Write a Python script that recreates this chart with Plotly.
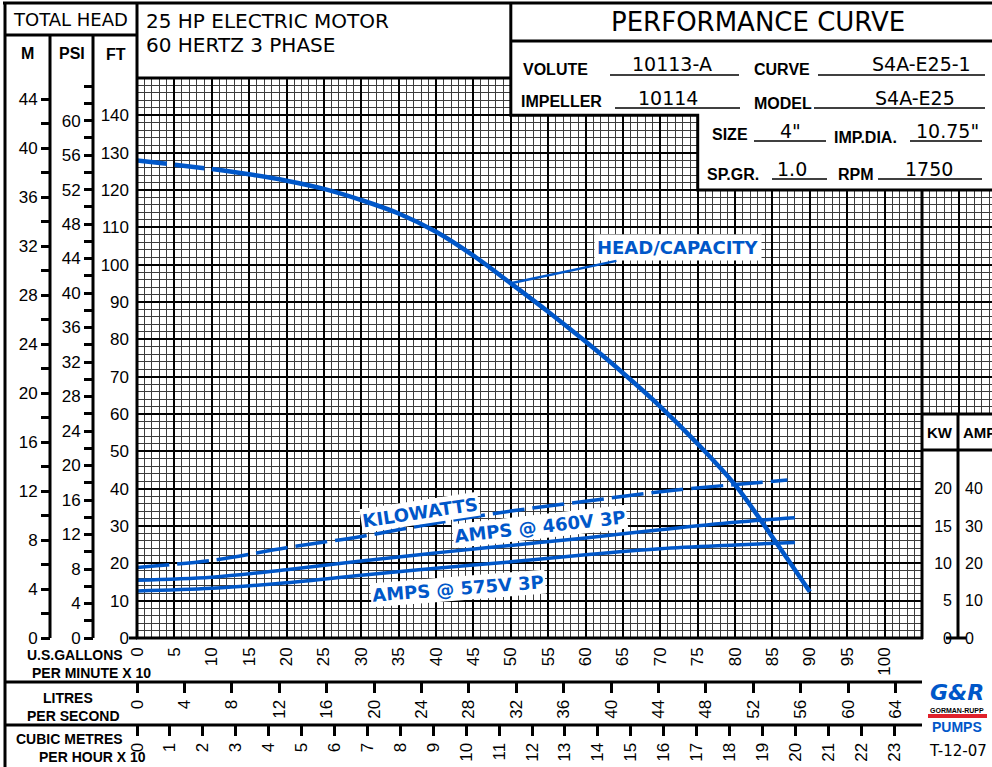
import plotly.graph_objects as go

# ---------------- data ----------------
gpm_ticks = list(range(0, 106, 5))                 # U.S. gallons per minute x 10
gpm_labels = [str(v) if v <= 100 else "" for v in gpm_ticks]
ft_ticks = list(range(0, 151, 10))
ft_labels = [str(v) if v <= 140 else "" for v in ft_ticks]
m_ticks = list(range(0, 45, 4))
psi_ticks = list(range(0, 61, 4))
lps_ticks = list(range(0, 65, 4))
m3h_ticks = list(range(0, 24, 1))
kw_ticks = [0, 5, 10, 15, 20]
amp_ticks = [0, 10, 20, 30, 40]

head_x = [0, 5, 10, 15, 20, 25, 30, 35, 40, 45, 50, 55, 60, 65, 70, 75, 80, 85, 90]
head_ft = [127.9, 126.8, 125.6, 124.2, 122.5, 120.3, 117.3, 113.7, 108.8, 102.4,
           95.0, 87.4, 79.4, 71.0, 62.0, 52.0, 41.0, 27.0, 12.4]

kw_x = [0, 10, 20, 30, 40, 50, 60, 70, 80, 87]
kw_val = [9.45, 10.4, 12.1, 13.6, 15.4, 17.0, 18.3, 19.6, 20.55, 21.15]

amps_x = [0, 10, 20, 30, 40, 50, 60, 70, 80, 88]
amps_460 = [15.5, 16.3, 18.3, 20.6, 22.8, 24.8, 26.8, 29.0, 31.0, 32.2]
amps_575 = [12.6, 13.3, 14.8, 16.8, 18.7, 20.4, 22.3, 23.9, 24.9, 25.6]

info_labels = ["VOLUTE", "CURVE", "IMPELLER", "MODEL", "SIZE", "IMP.DIA.", "SP.GR.", "RPM"]
info_values = ["10113-A", "S4A-E25-1", "10114", "S4A-E25", '4"', '10.75"', "1.0", "1750"]

# unit conversions
FT_PER_M = 3.28084
FT_PER_PSI = 2.31
GPM10_PER_LPS = 1.58503
GPM10_PER_M3H10 = 4.40287
FT_PER_KW = 2.0

# ---------------- layout helpers ----------------
W, H = 992, 767
def fx(p): return p / W
def fy(p): return 1 - p / H

GX0, GX1 = 137, 922        # pixel span of gpm 0..105
GY0, GY1 = 638, 78         # pixel span of ft 0..150
XR, YMAX = 105, 150
def xpx(v): return GX0 + v * (GX1 - GX0) / XR
def ypx(v): return GY0 - v * (GY0 - GY1) / YMAX
XSTRIP = XR + (W - GX1) * XR / (GX1 - GX0)

BLUE = "#0057C9"
TICKFONT = dict(family="Liberation Sans", size=17, color="black")
MAJ = dict(showgrid=True, gridcolor="black", gridwidth=2.4)
def minor_grid(d):
    return dict(tickmode="linear", tick0=0, dtick=d, showgrid=True,
                gridcolor="#3c3c3c", gridwidth=1.1)

fig = go.Figure()

# head / capacity (dashed at shut-off end, solid after)
fig.add_trace(go.Scatter(x=head_x[:3], y=head_ft[:3], mode="lines",
                         line=dict(color=BLUE, width=4.5, dash="30px,8px", shape="spline"),
                         hoverinfo="skip", showlegend=False))
fig.add_trace(go.Scatter(x=head_x[2:], y=head_ft[2:], mode="lines",
                         line=dict(color=BLUE, width=4.5, shape="spline"),
                         hoverinfo="skip", showlegend=False))
# kilowatts
fig.add_trace(go.Scatter(x=kw_x, y=kw_val, mode="lines", yaxis="y2",
                         line=dict(color=BLUE, width=3.5, dash="32px,8px", shape="spline"),
                         hoverinfo="skip", showlegend=False))
# amps
fig.add_trace(go.Scatter(x=amps_x, y=amps_460, mode="lines", yaxis="y3",
                         line=dict(color=BLUE, width=3.5, shape="spline"),
                         hoverinfo="skip", showlegend=False))
fig.add_trace(go.Scatter(x=amps_x, y=amps_575, mode="lines", yaxis="y3",
                         line=dict(color=BLUE, width=3.5, shape="spline"),
                         hoverinfo="skip", showlegend=False))
# empty traces so that the extra scales / grid strip are drawn
for xa, ya in [("x", "y4"), ("x", "y5"), ("x2", "y"), ("x3", "y"), ("x4", "y6")]:
    fig.add_trace(go.Scatter(x=[], y=[], xaxis=xa, yaxis=ya, mode="lines",
                             hoverinfo="skip", showlegend=False))

xdom = [fx(GX0), fx(GX1)]
ydom = [fy(GY0), fy(GY1)]

fig.update_layout(
    width=W, height=H, margin=dict(l=0, r=0, t=0, b=0, autoexpand=False),
    paper_bgcolor="white", plot_bgcolor="white",
    xaxis=dict(domain=xdom, range=[0, XR], tickmode="array", tickvals=gpm_ticks,
               ticktext=gpm_labels, tickangle=-90, ticks="", ticklabelstandoff=5,
               minor=minor_grid(1), zeroline=False, showline=False,
               tickfont=TICKFONT, fixedrange=True, **MAJ),
    yaxis=dict(domain=ydom, range=[0, YMAX], tickmode="array", tickvals=ft_ticks,
               ticktext=ft_labels, ticks="", ticklabelstandoff=7,
               minor=minor_grid(2), zeroline=False, showline=False,
               tickfont=TICKFONT, fixedrange=True, **MAJ),
    # grid strip right of 105 (between 60 and 120 ft)
    xaxis4=dict(domain=[fx(GX1), 1], range=[XR, XSTRIP], anchor="y6", tickmode="linear",
                tick0=0, dtick=5, showticklabels=False, ticks="", minor=minor_grid(1),
                zeroline=False, showline=False, **MAJ),
    yaxis6=dict(domain=[fy(ypx(60)), fy(ypx(120))], range=[60, 120], anchor="x4",
                tickmode="linear", tick0=0, dtick=10, showticklabels=False, ticks="",
                minor=minor_grid(2), zeroline=False, showline=False, **MAJ),
    yaxis2=dict(overlaying="y", anchor="free", position=fx(958), side="left",
                range=[0, YMAX / FT_PER_KW], tickmode="array", tickvals=kw_ticks,
                ticks="", ticklabelstandoff=6, showgrid=False, zeroline=False, showline=False,
                tickfont=dict(family="Liberation Sans", size=16, color="black")),
    yaxis3=dict(overlaying="y", anchor="free", position=fx(958), side="right",
                range=[0, YMAX], tickmode="array", tickvals=amp_ticks,
                ticks="", ticklabelstandoff=6, showgrid=False, zeroline=False, showline=False,
                tickfont=dict(family="Liberation Sans", size=16, color="black")),
    yaxis4=dict(overlaying="y", anchor="free", position=fx(50), side="left",
                range=[0, YMAX / FT_PER_M], tickmode="array", tickvals=m_ticks,
                ticks="outside", ticklen=9, tickwidth=2.5, tickcolor="black",
                minor=dict(tickmode="linear", tick0=0, dtick=2, ticks="outside",
                           ticklen=9, tickwidth=2.5, tickcolor="black", showgrid=False),
                showgrid=False, zeroline=False, showline=False, tickfont=TICKFONT),
    yaxis5=dict(overlaying="y", anchor="free", position=fx(93), side="left",
                range=[0, YMAX / FT_PER_PSI], tickmode="array", tickvals=psi_ticks,
                ticks="outside", ticklen=9, tickwidth=2.5, tickcolor="black",
                minor=dict(tickmode="linear", tick0=0, dtick=2, ticks="outside",
                           ticklen=9, tickwidth=2.5, tickcolor="black", showgrid=False),
                showgrid=False, zeroline=False, showline=False, tickfont=TICKFONT),
    xaxis2=dict(overlaying="x", anchor="free", position=fy(682), side="bottom",
                range=[0, XR / GPM10_PER_LPS], tickmode="array", tickvals=lps_ticks,
                tickangle=-90, ticks="outside", ticklen=10, tickwidth=2.5, tickcolor="black",
                showgrid=False, zeroline=False, showline=False, tickfont=TICKFONT),
    xaxis3=dict(overlaying="x", anchor="free", position=fy(725), side="bottom",
                range=[0, XR / GPM10_PER_M3H10], tickmode="array", tickvals=m3h_ticks,
                tickangle=-90, ticks="outside", ticklen=10, tickwidth=2.5, tickcolor="black",
                showgrid=False, zeroline=False, showline=False, tickfont=TICKFONT),
)

shapes = []
# mask cutting the grid under the title block
shapes.append(dict(type="path", xref="x", yref="y", layer="above",
                   path=f"M 50,{YMAX+30} L 50,140 L 75,140 L 75,120 L {XR+20},120 L {XR+20},{YMAX+30} Z",
                   fillcolor="white", line=dict(color="black", width=3)))

def hline(x0, x1, y, w=3, color="black"):
    shapes.append(dict(type="line", xref="paper", yref="paper", layer="above",
                       x0=fx(x0), x1=fx(x1), y0=fy(y), y1=fy(y), line=dict(color=color, width=w)))
def vline(x, y0, y1, w=3, color="black"):
    shapes.append(dict(type="line", xref="paper", yref="paper", layer="above",
                       x0=fx(x), x1=fx(x), y0=fy(y0), y1=fy(y1), line=dict(color=color, width=w)))

hline(3, 992, 3)
vline(5, 2, 767)
hline(5, 137, 35)
vline(50, 35, 638)
vline(93, 35, 638)
vline(GX0, 3, GY0 + 1)
hline(GX0, xpx(50), GY1)
vline(xpx(50), 3, GY1)
hline(512, 992, 41)
hline(GX0 - 1, GX1 + 1, GY0)
vline(GX1, ypx(120), GY0 + 1)
hline(GX1, 992, ypx(120))
hline(GX1, 992, ypx(60))
hline(5, GX1, 682)
hline(5, GX1, 725)
hline(GX1, 992, 450)
vline(958, ypx(60), GY0)
hline(946, 966, GY0)
hline(129, GX0, GY0)
# underlines for info block
for (a, b, y) in [(610, 739, 75), (818, 985, 75), (615, 740, 108), (814, 985, 108),
                  (754, 826, 141), (910, 982, 141), (772, 827, 179), (878, 982, 179)]:
    hline(a, b, y, w=1.5)
# logo red bar
shapes.append(dict(type="rect", xref="paper", yref="paper", layer="above",
                   x0=fx(928), x1=fx(987), y0=fy(718), y1=fy(714),
                   fillcolor="#E0202A", line=dict(width=0)))

ann = []
def txt(s, x, y, size=16, family="DejaVu Sans", xanchor="center", color="black", bold=False, align="center"):
    if bold:
        s = "<b>" + s + "</b>"
    ann.append(dict(text=s, x=fx(x), y=fy(y), xref="paper", yref="paper", showarrow=False,
                    xanchor=xanchor, yanchor="middle", align=align,
                    font=dict(family=family, size=size, color=color)))

txt("TOTAL HEAD", 70, 20, 18)
txt("M", 27, 53, 16, "Liberation Sans", bold=True)
txt("PSI", 72, 53, 16, "Liberation Sans", bold=True)
txt("FT", 116, 55, 16, "Liberation Sans", bold=True)
txt("25 HP ELECTRIC MOTOR", 144, 21, 20, xanchor="left")
txt("60 HERTZ 3 PHASE", 144, 45, 20, xanchor="left")
txt("PERFORMANCE CURVE", 758, 22, 26)

lab_pos = [(521, 70), (752, 70), (519, 101), (752, 103), (710, 135), (832, 137), (705, 174), (836, 174)]
val_pos = [(672, 64), (921, 64), (668, 98), (915, 98), (790, 131), (947, 131), (792, 169), (929, 169)]
for s, (x, y) in zip(info_labels, lab_pos):
    txt(s, x, y, 16, "Liberation Sans", xanchor="left", bold=True)
for s, (x, y) in zip(info_values, val_pos):
    txt(s, x, y, 19)

txt("U.S.GALLONS", 25, 655, 14, "Liberation Sans", xanchor="left", bold=True)
txt("PER MINUTE X 10", 30, 673, 14, "Liberation Sans", xanchor="left", bold=True)
txt("LITRES", 68, 698, 14, "Liberation Sans", bold=True)
txt("PER SECOND", 73, 716, 14, "Liberation Sans", bold=True)
txt("CUBIC METRES", 69, 739, 14, "Liberation Sans", bold=True)
txt("PER HOUR X 10", 92, 757, 14, "Liberation Sans", bold=True)

txt("KW", 940, 433, 15, "Liberation Sans", bold=True)
txt("AMPS", 961, 433, 15, "Liberation Sans", xanchor="left", bold=True)

txt("<i>G&amp;R</i>", 957, 692, 22, "DejaVu Sans", color=BLUE, bold=True)
txt("GORMAN-RUPP", 957, 710, 7, "Liberation Sans", bold=True)
txt("PUMPS", 957, 727, 14, "Liberation Sans", color=BLUE, bold=True)
txt("T-12-07", 958, 751, 15, "DejaVu Sans")

# curve labels
CFONT = dict(family="DejaVu Sans", size=18, color=BLUE)
ann.append(dict(text="<b>HEAD/CAPACITY</b>", x=head_x[10], y=head_ft[10], xref="x", yref="y",
                ax=72.3, ay=104.5, axref="x", ayref="y", showarrow=True, arrowhead=0,
                arrowwidth=2.5, arrowcolor=BLUE, bgcolor="white", borderpad=2, font=CFONT))
ann.append(dict(text="<b>KILOWATTS</b>", x=37.8, y=33.6, xref="x", yref="y", showarrow=False,
                textangle=-8.5, bgcolor="white", borderpad=1, font=CFONT))
ann.append(dict(text="<b>AMPS @ 460V 3P</b>", x=53.9, y=29.9, xref="x", yref="y", showarrow=False,
                textangle=-6.5, bgcolor="white", borderpad=1, font=CFONT))
ann.append(dict(text="<b>AMPS @ 575V 3P</b>", x=42.9, y=13.2, xref="x", yref="y", showarrow=False,
                textangle=-4.5, bgcolor="white", borderpad=1, font=CFONT))

fig.update_layout(shapes=shapes, annotations=ann)
fig.write_html("out.html", config=dict(displayModeBar=False),
               post_script="document.body.style.margin='0';document.body.style.overflow='hidden';")
